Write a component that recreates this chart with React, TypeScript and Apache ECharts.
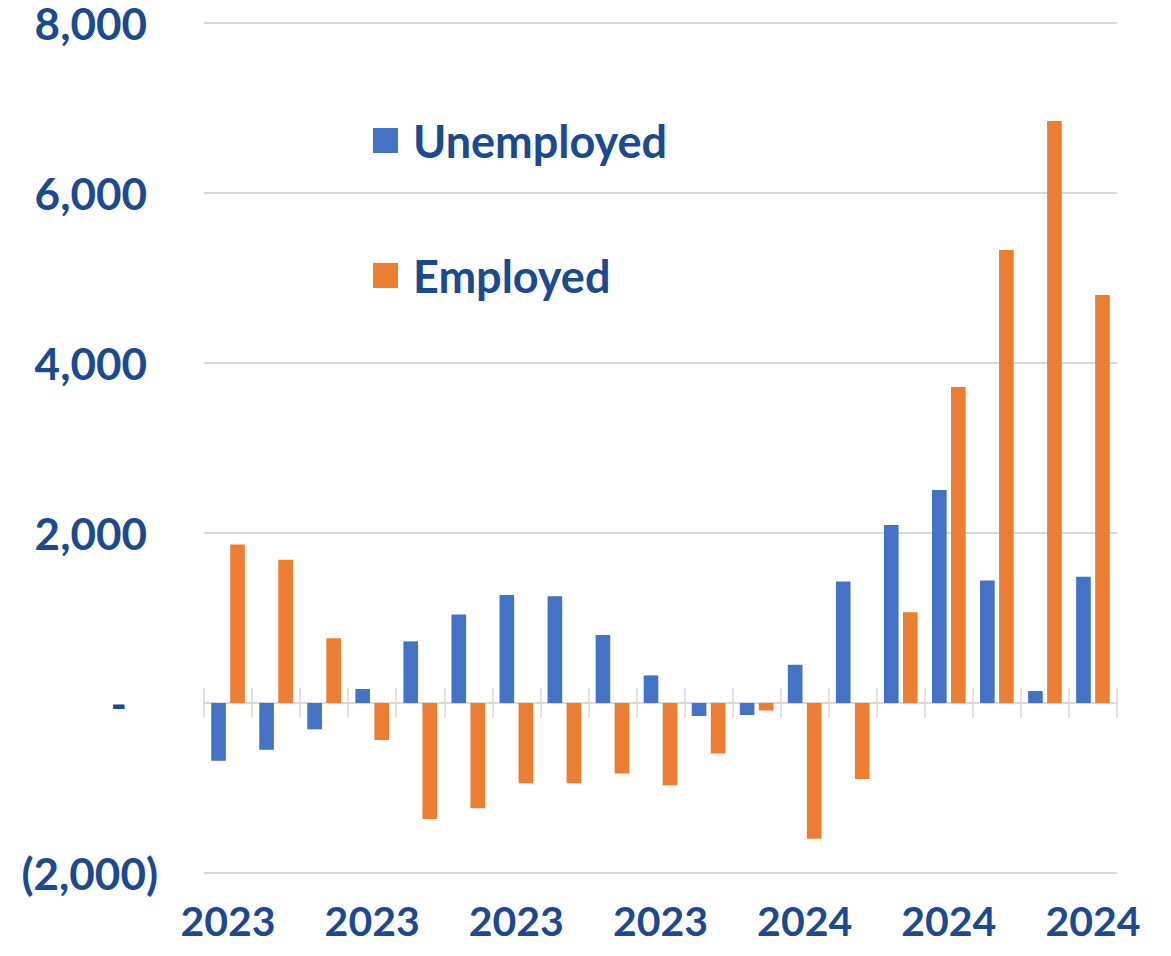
import React, { useEffect, useRef } from "react";
import * as echarts from "echarts";

const months = [
  "Jan 2023", "Feb 2023", "Mar 2023", "Apr 2023", "May 2023", "Jun 2023",
  "Jul 2023", "Aug 2023", "Sep 2023", "Oct 2023", "Nov 2023", "Dec 2023",
  "Jan 2024", "Feb 2024", "Mar 2024", "Apr 2024", "May 2024", "Jun 2024", "Jul 2024",
];
const unemployed = [-680, -550, -310, 165, 725, 1040, 1270, 1255, 800, 325, -153, -141, 450, 1430, 2095, 2505, 1440, 141, 1485];
const employed = [1865, 1685, 762, -435, -1365, -1238, -945, -945, -830, -967, -594, -88, -1598, -894, 1068, 3718, 5330, 6848, 4800];
const seriesNames = ["Unemployed", "Employed"];
const yMin = -2000;
const yMax = 8000;
const yStep = 2000;

const TEXT = "#1B4A8E";
const FONT = "Lato, 'Open Sans', sans-serif";

export default function App() {
  const ref = useRef<HTMLDivElement>(null);
  useEffect(() => {
    document.body.style.margin = "0";
    const chart = echarts.init(ref.current!, null, { renderer: "svg" });
    const yText = { color: TEXT, fontSize: 44, lineHeight: 36, fontWeight: "bold", fontFamily: FONT };
    const fmtY = (v: number) => {
      if (v === 0) return "{z|-}";
      const s = Math.abs(v).toLocaleString("en-US");
      return v < 0 ? `{n|(${s})}` : `{p|${s}}`;
    };
    const tickStyle = { color: "#D9D9D9", width: 1.5 };
    chart.setOption({
      animation: false,
      backgroundColor: "#ffffff",
      textStyle: { fontFamily: FONT },
      grid: { left: 204, right: 54, top: 23, bottom: 83, containLabel: false, outerBoundsMode: "none" },
      legend: {
        orient: "vertical",
        left: 373,
        top: 118,
        padding: 0,
        itemGap: 90,
        itemWidth: 25,
        itemHeight: 25,
        icon: "rect",
        data: seriesNames,
        textStyle: {
          color: TEXT,
          fontSize: 45,
          fontWeight: "bold",
          fontFamily: FONT,
          padding: [0, 0, 0, 10],
        },
      },
      xAxis: [
        {
          type: "category",
          data: months,
          position: "bottom",
          axisLine: { show: true, onZero: true, onZeroAxisIndex: 0, lineStyle: { color: "#D9D9D9", width: 2 } },
          axisTick: { show: true, inside: false, length: 15, interval: 0, lineStyle: tickStyle },
          axisLabel: {
            interval: 2,
            margin: 27,
            color: TEXT,
            fontSize: 41,
            lineHeight: 41,
            fontWeight: "bold",
            fontFamily: FONT,
            formatter: (v: string) => v.slice(-4),
          },
          splitLine: { show: false },
        },
        {
          type: "category",
          data: months,
          position: "top",
          axisLine: { show: true, onZero: true, onZeroAxisIndex: 0, lineStyle: { color: "#D9D9D9", width: 2 } },
          axisTick: { show: true, inside: false, length: 15, interval: 0, lineStyle: tickStyle },
          axisLabel: { show: false },
          splitLine: { show: false },
        },
      ],
      yAxis: {
        type: "value",
        min: yMin,
        max: yMax,
        interval: yStep,
        axisLine: { show: false },
        axisTick: { show: false },
        splitLine: { show: true, lineStyle: { color: "#D9D9D9", width: 2 } },
        axisLabel: {
          margin: 46,
          ...yText,
          formatter: fmtY,
          rich: {
            p: { ...yText, padding: [0, 11, 0, 0] },
            n: { ...yText },
            z: { ...yText, padding: [0, 31, 0, 0] },
          },
        },
      },
      series: [
        {
          name: seriesNames[0],
          type: "bar",
          data: unemployed,
          itemStyle: { color: "#4472C4" },
          barGap: "30%",
          barCategoryGap: "30%",
        },
        {
          name: seriesNames[1],
          type: "bar",
          data: employed,
          itemStyle: { color: "#ED7D31" },
          barGap: "30%",
          barCategoryGap: "30%",
        },
      ],
    });
    return () => chart.dispose();
  }, []);
  return <div ref={ref} style={{ width: 1171, height: 956 }} />;
}
